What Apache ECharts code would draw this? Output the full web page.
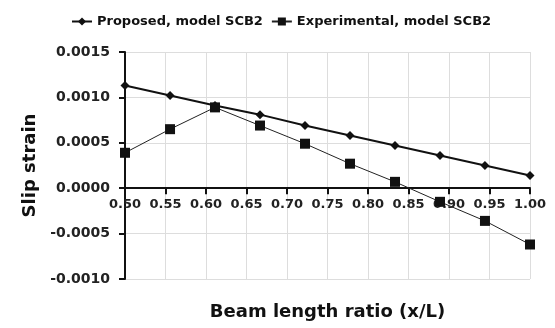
<!DOCTYPE html>
<html>
<head>
<meta charset="utf-8">
<script src="https://cdn.jsdelivr.net/npm/echarts@6/dist/echarts.min.js"></script>
<style>html,body{margin:0;padding:0;background:#fff;}#c{width:555px;height:328px;}</style>
</head>
<body>
<div id="c"></div>
<script>
const xRatio = [0.5, 0.5556, 0.6111, 0.6667, 0.7222, 0.7778, 0.8333, 0.8889, 0.9444, 1.0];
const proposed = [0.00113, 0.00102, 0.00091, 0.00081, 0.00069, 0.00058, 0.00047, 0.00036, 0.00025, 0.00014];
const experimental = [0.00039, 0.00065, 0.00089, 0.00069, 0.00049, 0.00027, 0.00007, -0.00015, -0.00036, -0.00062];
const seriesNames = ['Proposed, model SCB2', 'Experimental, model SCB2'];

const font = 'DejaVu Sans';
const gridTop = 52, gridBottom = 49, H = 328;
const chart = echarts.init(document.getElementById('c'));
const option = {
  animation: false,
  backgroundColor: '#fff',
  legend: {
    top: 10, left: 66,
    itemWidth: 20, itemHeight: 10, itemGap: 8,
    textStyle: {fontFamily: font, fontWeight: 'bold', fontSize: 13, color: '#111'},
    data: seriesNames
  },
  grid: {left: 125, right: 25, top: gridTop, bottom: gridBottom, outerBoundsMode: 'none', containLabel: false},
  xAxis: {
    type: 'value', min: 0.5, max: 1.0, interval: 0.05,
    position: 'bottom', offset: 0,
    name: 'Beam length ratio (x/L)', nameLocation: 'middle', nameGap: 24,
    nameTextStyle: {fontFamily: font, fontWeight: 'bold', fontSize: 18, color: '#111'},
    axisLine: {onZero: false, lineStyle: {color: '#111', width: 2}},
    axisTick: {show: true, length: 6, lineStyle: {color: '#111', width: 2}},
    axisLabel: {fontFamily: font, fontWeight: 'bold', fontSize: 13, color: '#222', margin: 10,
      formatter: v => v.toFixed(2)},
    splitLine: {show: true, lineStyle: {color: '#ddd', width: 1}}
  },
  yAxis: {
    type: 'value', min: -0.001, max: 0.0015, interval: 0.0005,
    name: 'Slip strain', nameLocation: 'middle', nameGap: 83,
    nameTextStyle: {fontFamily: font, fontWeight: 'bold', fontSize: 18, color: '#111'},
    axisLine: {show: true, onZero: false, lineStyle: {color: '#111', width: 2}},
    axisTick: {show: true, length: 6, lineStyle: {color: '#111', width: 2}},
    axisLabel: {fontFamily: font, fontWeight: 'bold', fontSize: 14, color: '#222', margin: 15,
      formatter: v => v.toFixed(4)},
    splitLine: {show: true, lineStyle: {color: '#ddd', width: 1}}
  },
  series: [
    {
      name: seriesNames[0], type: 'line',
      data: xRatio.map((x, i) => [x, proposed[i]]),
      symbol: 'diamond', symbolSize: 9,
      lineStyle: {color: '#111', width: 2},
      itemStyle: {color: '#111'}
    },
    {
      name: seriesNames[1], type: 'line',
      data: xRatio.map((x, i) => [x, experimental[i]]),
      symbol: 'rect', symbolSize: 10,
      lineStyle: {color: '#222', width: 1},
      itemStyle: {color: '#111'}
    }
  ]
};
chart.setOption(option);
// move the x axis (line, ticks, labels) up to the y = 0 line, keeping the title below the plot
const zeroY = chart.convertToPixel({yAxisIndex: 0}, 0);
const bottomY = H - gridBottom;
const shift = bottomY - zeroY;
chart.setOption({xAxis: {offset: -shift, nameGap: 24 + shift}});
</script>
</body>
</html>
